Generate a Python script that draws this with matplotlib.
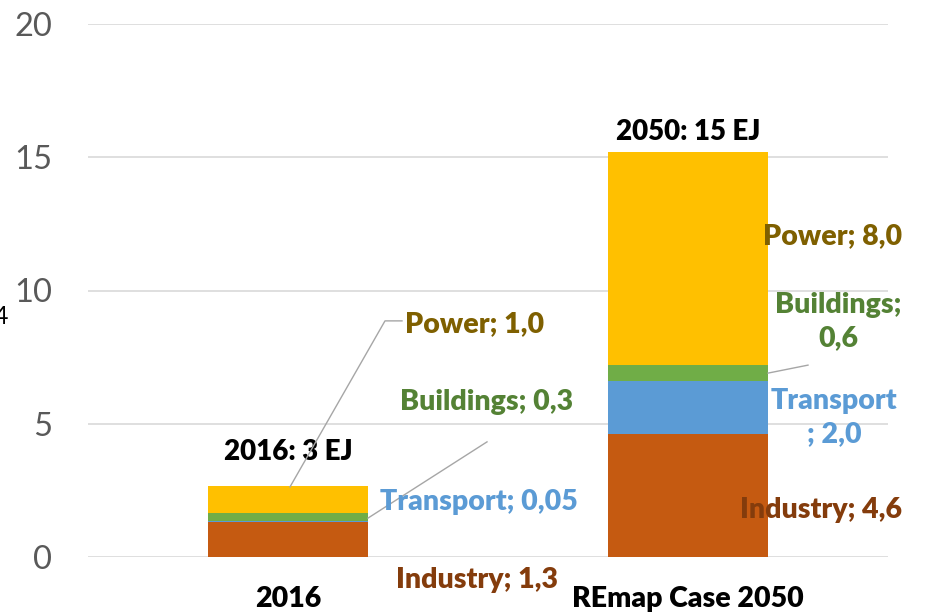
import matplotlib
matplotlib.use("Agg")
import matplotlib.pyplot as plt
import numpy as np

categories = ["2016", "REmap Case 2050"]
industry = [1.3, 4.6]
transport = [0.05, 2.0]
buildings = [0.3, 0.6]
power = [1.0, 8.0]
totals_text = ["2016: 3 EJ", "2050: 15 EJ"]
yticks = [0, 5, 10, 15, 20]

plt.rcParams['font.family'] = ['Lato', 'DejaVu Sans']

C_IND = "#C55A11"
C_TRA = "#5B9BD5"
C_BUI = "#70AD47"
C_POW = "#FFC000"
T_IND = "#843C0C"
T_TRA = "#5B9BD5"
T_BUI = "#548235"
T_POW = "#7F6000"

fig = plt.figure(figsize=(9.29, 6.16), dpi=100)
ax = fig.add_axes([88/929, 1-557/616, 800/929, (557-24)/616])

x = np.arange(len(categories))
w = 0.4
b1 = np.array(industry)
b2 = b1 + np.array(transport)
b3 = b2 + np.array(buildings)
ax.bar(x, industry, w, color=C_IND, zorder=3)
ax.bar(x, transport, w, bottom=b1, color=C_TRA, zorder=3)
ax.bar(x, buildings, w, bottom=b2, color=C_BUI, zorder=3)
ax.bar(x, power, w, bottom=b3, color=C_POW, zorder=3)

ax.set_xlim(-0.5, 1.5)
ax.set_ylim(0, 20)
ax.set_yticks(yticks)
ax.set_yticklabels([str(v) for v in yticks], fontsize=23.5, color="#595959")
ax.yaxis.grid(True, color="#D9D9D9", linewidth=1.2, zorder=0)
ax.set_xticks(x)
ax.set_xticklabels(categories, fontsize=20.5, fontweight="heavy", color="black")
ax.tick_params(axis="both", length=0)
ax.tick_params(axis="x", pad=21)
ax.tick_params(axis="y", pad=26)
for s in ax.spines.values():
    s.set_visible(False)

fs = 20.5
kw = dict(fontsize=fs, fontweight="heavy", clip_on=False, zorder=5)
# totals
ax.text(0, 3.94, totals_text[0], ha="center", va="center", color="black", fontsize=20, fontweight="heavy")
ax.text(1, 15.95, totals_text[1], ha="center", va="center", color="black", fontsize=20, fontweight="heavy")

# 2016 labels
ax.text(0.2925, 8.74, "Power; 1,0", ha="left", va="center", color=T_POW, **kw)
ax.plot([0.005, 0.2425, 0.285], [2.63, 8.86, 8.86], color="#A6A6A6", lw=1, zorder=4)
ax.text(0.28, 5.82, "Buildings; 0,3", ha="left", va="center", color=T_BUI, **kw)
ax.plot([0.2, 0.4975], [1.46, 4.32], color="#A6A6A6", lw=1, zorder=4)
ax.text(0.23, 2.06, "Transport; 0,05", ha="left", va="center", color=T_TRA, **kw)
ax.text(0.27, -0.86, "Industry; 1,3", ha="left", va="center", color=T_IND, **kw)

# 2050 labels
ax.text(1.1875, 12.05, "Power; 8,0", ha="left", va="center", color=T_POW, **kw)
ax.text(1.375, 8.82, "Buildings;\n0,6", ha="center", va="center", color=T_BUI,
        linespacing=1.35, **kw)
ax.plot([1.2, 1.3], [6.9, 7.2], color="#A6A6A6", lw=1, zorder=4)
ax.text(1.365, 5.22, "Transport\n; 2,0", ha="center", va="center", color=T_TRA,
        linespacing=1.35, **kw)
ax.text(1.13, 1.76, "Industry; 4,6", ha="left", va="center", color=T_IND, **kw)

# cut-off axis title fragment at left edge (as in the reference)
fig.text(-0.007, 1-317/616, "4", fontsize=18, color="black", ha="left", va="center")

fig.savefig("out.png", dpi=100)
